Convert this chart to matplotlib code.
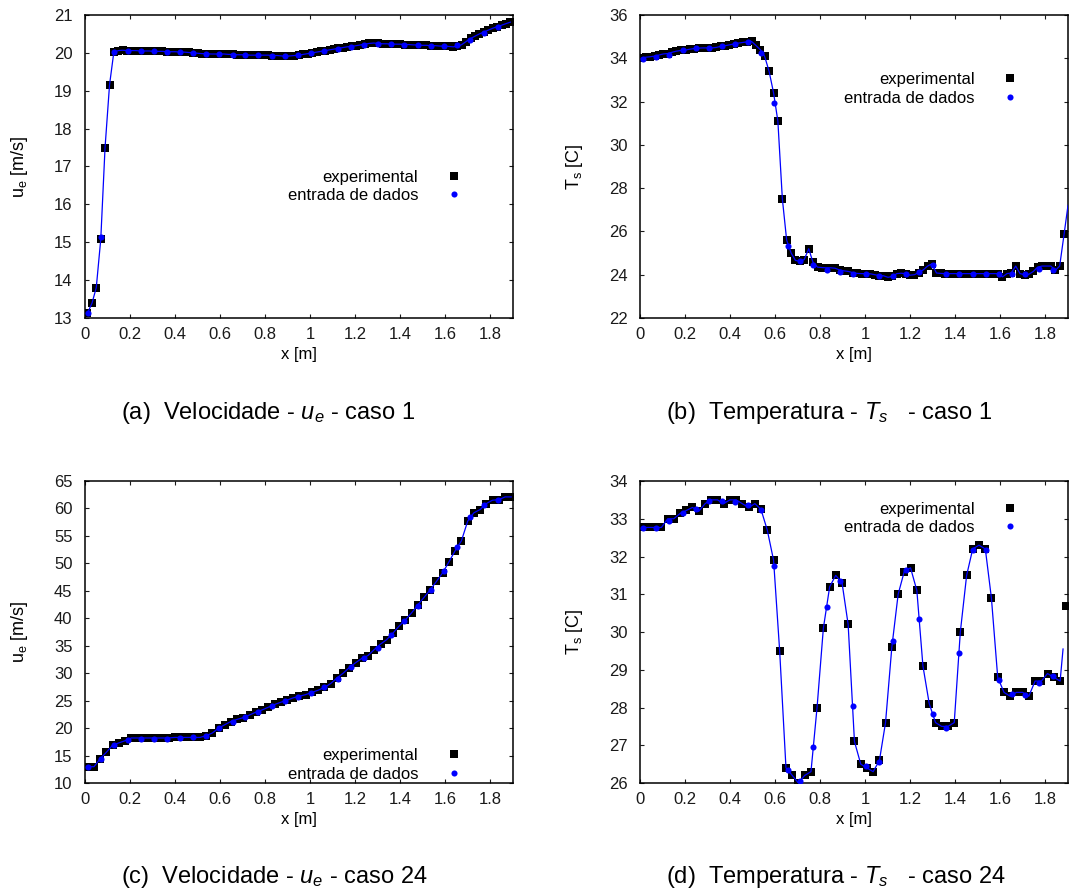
import numpy as np
import matplotlib.pyplot as plt
from matplotlib.ticker import FuncFormatter

plt.rcParams['font.family'] = ['Liberation Sans', 'DejaVu Sans']
plt.rcParams['mathtext.fontset'] = 'custom'
plt.rcParams['mathtext.rm'] = 'Liberation Sans'
plt.rcParams['mathtext.it'] = 'Liberation Sans:italic'

# x positions of the experimental points, caso 1 (a) and (b)
x_a = [0.011, 0.031, 0.050, 0.070, 0.089, 0.109, 0.128, 0.148, 0.167, 0.187,
       0.207, 0.226, 0.246, 0.265, 0.285, 0.304, 0.324, 0.343, 0.363, 0.382,
       0.402, 0.422, 0.441, 0.461, 0.480, 0.500, 0.519, 0.539, 0.558, 0.578,
       0.598, 0.617, 0.637, 0.656, 0.676, 0.695, 0.715, 0.734, 0.754, 0.773,
       0.793, 0.813, 0.832, 0.852, 0.871, 0.891, 0.910, 0.930, 0.949, 0.969,
       0.989, 1.008, 1.028, 1.047, 1.067, 1.086, 1.106, 1.125, 1.145, 1.164,
       1.184, 1.204, 1.223, 1.243, 1.262, 1.282, 1.301, 1.321, 1.340, 1.360,
       1.380, 1.399, 1.419, 1.438, 1.458, 1.477, 1.497, 1.516, 1.536, 1.555,
       1.575, 1.595, 1.614, 1.634, 1.653, 1.673, 1.692, 1.712, 1.731, 1.751,
       1.770, 1.790, 1.810, 1.829, 1.849, 1.868, 1.888]
x_b = [0.006, 0.026, 0.045, 0.065, 0.084, 0.104, 0.123, 0.143, 0.162, 0.182,
       0.202, 0.221, 0.241, 0.260, 0.280, 0.299, 0.319, 0.338, 0.358, 0.377,
       0.397, 0.417, 0.436, 0.456, 0.475, 0.495, 0.514, 0.534, 0.553, 0.573,
       0.593, 0.612, 0.632, 0.651, 0.671, 0.690, 0.710, 0.729, 0.749, 0.768,
       0.788, 0.808, 0.827, 0.847, 0.866, 0.886, 0.905, 0.925, 0.944, 0.964,
       0.984, 1.003, 1.023, 1.042, 1.062, 1.081, 1.101, 1.120, 1.140, 1.159,
       1.179, 1.199, 1.218, 1.238, 1.257, 1.277, 1.296, 1.316, 1.335, 1.355,
       1.375, 1.394, 1.414, 1.433, 1.453, 1.472, 1.492, 1.511, 1.531, 1.550,
       1.570, 1.590, 1.609, 1.629, 1.648, 1.668, 1.687, 1.707, 1.726, 1.746,
       1.765, 1.785, 1.805, 1.824, 1.844, 1.863, 1.883]
# x positions of the experimental points, caso 24 (c) and (d)
x_cd = [0.012, 0.040, 0.067, 0.095, 0.123, 0.150, 0.178, 0.206, 0.233, 0.261,
        0.289, 0.316, 0.344, 0.371, 0.399, 0.427, 0.454, 0.482, 0.510, 0.537,
        0.565, 0.593, 0.620, 0.648, 0.676, 0.703, 0.731, 0.759, 0.786, 0.814,
        0.842, 0.869, 0.897, 0.924, 0.952, 0.980, 1.007, 1.035, 1.063, 1.090,
        1.118, 1.146, 1.173, 1.201, 1.229, 1.256, 1.284, 1.312, 1.339, 1.367,
        1.395, 1.422, 1.450, 1.477, 1.505, 1.533, 1.560, 1.588, 1.616, 1.643,
        1.671, 1.699, 1.726, 1.754, 1.782, 1.809, 1.837, 1.865, 1.892]
# x positions of the "entrada de dados" points
x_in = [0.0135, 0.071, 0.130, 0.189, 0.247, 0.306, 0.364, 0.421, 0.479, 0.538,
        0.596, 0.656, 0.710, 0.770, 0.828, 0.887, 0.945, 1.004, 1.062, 1.121,
        1.181, 1.239, 1.299, 1.359, 1.417, 1.477, 1.534, 1.593, 1.652, 1.711,
        1.771, 1.832]

# (a) velocidade caso 1
u1_exp = [13.13, 13.39, 13.80, 15.08, 17.50, 19.16, 20.02, 20.06, 20.07, 20.06,
          20.06, 20.06, 20.05, 20.05, 20.05, 20.04, 20.04, 20.04, 20.03, 20.03,
          20.03, 20.02, 20.02, 20.01, 20.00, 19.99, 19.98, 19.98, 19.97, 19.97,
          19.97, 19.97, 19.96, 19.96, 19.95, 19.95, 19.95, 19.94, 19.94, 19.94,
          19.94, 19.94, 19.93, 19.93, 19.92, 19.91, 19.92, 19.93, 19.94, 19.96,
          19.98, 20.00, 20.02, 20.04, 20.06, 20.08, 20.10, 20.12, 20.14, 20.16,
          20.17, 20.19, 20.21, 20.23, 20.25, 20.26, 20.25, 20.24, 20.24, 20.23,
          20.23, 20.23, 20.22, 20.22, 20.21, 20.21, 20.20, 20.20, 20.19, 20.19,
          20.18, 20.18, 20.17, 20.16, 20.17, 20.22, 20.30, 20.38, 20.44, 20.50,
          20.55, 20.60, 20.65, 20.69, 20.73, 20.77, 20.81]
u1_in = [13.13, 15.15, 20.02, 20.06, 20.05, 20.04, 20.02, 20.01, 19.99, 19.97,
         19.97, 19.95, 19.94, 19.94, 19.93, 19.91, 19.94, 19.99, 20.05, 20.10,
         20.16, 20.21, 20.24, 20.23, 20.22, 20.20, 20.18, 20.17, 20.20, 20.35,
         20.53, 20.67]

# (b) temperatura caso 1
t1_exp = [34.00, 34.05, 34.07, 34.10, 34.15, 34.20, 34.22, 34.28, 34.33, 34.36,
          34.38, 34.42, 34.45, 34.47, 34.48, 34.48, 34.48, 34.50, 34.55, 34.58,
          34.62, 34.66, 34.70, 34.73, 34.76, 34.78, 34.60, 34.40, 34.10, 33.40,
          32.40, 31.10, 27.50, 25.60, 25.00, 24.66, 24.62, 24.70, 25.20, 24.57,
          24.35, 24.33, 24.32, 24.32, 24.30, 24.22, 24.18, 24.15, 24.10, 24.06,
          24.05, 24.05, 24.04, 24.00, 23.96, 23.95, 23.88, 23.92, 24.05, 24.07,
          24.05, 23.98, 24.00, 24.10, 24.22, 24.40, 24.50, 24.08, 24.06, 24.05,
          24.05, 24.05, 24.05, 24.05, 24.05, 24.05, 24.05, 24.05, 24.05, 24.05,
          24.05, 24.05, 23.90, 24.05, 24.08, 24.40, 24.05, 24.00, 24.02, 24.15,
          24.35, 24.40, 24.40, 24.40, 24.20, 24.40, 25.90]
t1_in = [33.97, 34.07, 34.16, 34.36, 34.47, 34.47, 34.55, 34.67, 34.76, 34.25,
         31.95, 25.33, 24.64, 24.43, 24.24, 24.12, 24.03, 24.03, 23.92, 23.93,
         24.03, 24.13, 24.46, 24.03, 24.03, 24.03, 24.03, 24.03, 24.04, 24.03,
         24.27, 24.23]

# (c) velocidade caso 24
u24_exp = [12.97, 12.97, 14.4, 15.6, 16.9, 17.3, 17.7, 18.2, 18.2, 18.2,
           18.2, 18.2, 18.2, 18.2, 18.3, 18.3, 18.3, 18.3, 18.3, 18.6,
           19.1, 20.0, 20.6, 21.2, 21.6, 21.9, 22.4, 22.9, 23.3, 23.8,
           24.3, 24.7, 25.1, 25.5, 25.8, 26.1, 26.5, 26.9, 27.4, 28.1,
           29.1, 30.0, 31.0, 31.9, 32.7, 33.2, 34.3, 35.3, 36.1, 37.3,
           38.6, 39.7, 41.0, 42.4, 43.8, 45.2, 46.7, 48.3, 50.3, 52.3,
           54.1, 57.7, 59.2, 59.8, 60.9, 61.5, 61.6, 62.1, 62.1]
u24_in = [12.97, 14.4, 16.85, 17.8, 18.1, 18.1, 18.1, 18.25, 18.3, 18.6,
          20.0, 21.1, 22.0, 22.85, 24.0, 24.85, 25.6, 26.4, 27.4, 29.0,
          31.1, 32.8, 34.6, 37.0, 39.5, 42.3, 45.2, 48.6, 52.9, 58.4,
          60.6, 61.5]

# (d) temperatura caso 24
t24_exp = [32.77, 32.77, 32.77, 32.77, 33.0, 33.0, 33.14, 33.22, 33.3, 33.2,
           33.4, 33.5, 33.5, 33.4, 33.5, 33.5, 33.4, 33.3, 33.4, 33.25,
           32.7, 31.9, 29.5, 26.4, 26.2, 26.0, 26.2, 26.3, 28.0, 30.1,
           31.2, 31.5, 31.3, 30.2, 27.1, 26.5, 26.4, 26.3, 26.6, 27.6,
           29.6, 31.0, 31.6, 31.7, 31.1, 29.1, 28.1, 27.6, 27.5, 27.5,
           27.6, 30.0, 31.5, 32.2, 32.3, 32.2, 30.9, 28.8, 28.4, 28.3,
           28.4, 28.4, 28.3, 28.7, 28.7, 28.9, 28.8, 28.7, 30.7]
t24_in = [32.75, 32.75, 32.95, 33.15, 33.26, 33.46, 33.46, 33.45, 33.36, 33.23,
          31.74, 26.35, 26.05, 26.95, 30.65, 31.34, 28.05, 26.44, 26.55, 29.75,
          31.65, 30.34, 27.84, 27.46, 29.44, 32.17, 32.17, 28.74, 28.35, 28.34,
          28.66, 28.83]

# where the fitted curve ends (it does not always stop on the last point)
b_line_end = (1.900, 27.2)
d_line_end = (1.878, 29.55)

xticks = [0, 0.2, 0.4, 0.6, 0.8, 1.0, 1.2, 1.4, 1.6, 1.8]

captions = ['(a)  Velocidade - $u_e$ - caso 1',
            '(b)  Temperatura - $T_s$   - caso 1',
            '(c)  Velocidade - $u_e$ - caso 24',
            '(d)  Temperatura - $T_s$   - caso 24']

fig = plt.figure(figsize=(10.7, 8.96), dpi=100)
W, H = 1070.0, 896.0


def make_axes(left, top, right, bottom):
    return fig.add_axes([left / W, 1 - bottom / H, (right - left) / W, (bottom - top) / H])


ax_a = make_axes(85, 15, 513, 318)
ax_b = make_axes(640, 15, 1068, 318)
ax_c = make_axes(85, 481, 513, 783)
ax_d = make_axes(640, 481, 1068, 783)

panels = [
    (ax_a, x_a, u1_exp, u1_in, x_a, u1_exp, (13, 21), 1, 'u$_\\mathrm{e}$ [m/s]', (0.882, 0.489)),
    (ax_b, x_b, t1_exp, t1_in, x_b + [b_line_end[0]], t1_exp + [b_line_end[1]],
     (22, 36), 2, 'T$_\\mathrm{s}$ [C]', (0.885, 0.811)),
    (ax_c, x_cd, u24_exp, u24_in, x_cd, u24_exp, (10, 65), 5, 'u$_\\mathrm{e}$ [m/s]', (0.882, 0.115)),
    (ax_d, x_cd, t24_exp, t24_in, x_cd[:-1] + [d_line_end[0]], t24_exp[:-1] + [d_line_end[1]],
     (26, 34), 1, 'T$_\\mathrm{s}$ [C]', (0.885, 0.931)),
]

for ax, xe, ye, yi, lx, ly, ylim, ystep, ylabel, leg_pos in panels:
    h_exp, = ax.plot(xe, ye, 's', color='black', markersize=5.2, markeredgewidth=0,
                     label='experimental', zorder=2)
    ax.plot(lx, ly, '-', color='#0000ff', linewidth=0.9, zorder=3)
    h_in, = ax.plot(x_in, yi, 'o', color='#0000ff', markersize=4.4, markeredgewidth=0,
                    label='entrada de dados', zorder=4)
    ax.set_xlim(0, 1.9)
    ax.set_ylim(*ylim)
    ax.set_xticks(xticks)
    ax.set_yticks(np.arange(ylim[0], ylim[1] + 0.001, ystep))
    ax.xaxis.set_major_formatter(FuncFormatter(lambda v, p: '%g' % round(v, 2)))
    ax.yaxis.set_major_formatter(FuncFormatter(lambda v, p: '%g' % v))
    ax.tick_params(direction='in', top=True, right=True, length=3.2, width=0.8,
                   labelsize=12, colors='#1a1a1a')
    ax.tick_params(axis='y', pad=9)
    ax.tick_params(axis='x', pad=6.5)
    for s in ax.spines.values():
        s.set_linewidth(1.1)
    ax.set_xlabel('x [m]', fontsize=12)
    ax.set_ylabel(ylabel, fontsize=13)
    ax.xaxis.set_label_coords(0.5, -0.095)
    ax.yaxis.set_label_coords(-0.128, 0.5)
    ax.legend(handles=[h_exp, h_in], loc='upper right', bbox_to_anchor=leg_pos,
              frameon=False, markerfirst=False, alignment='right', fontsize=12,
              handlelength=1.0, handletextpad=1.65, labelspacing=0.2,
              borderpad=0, borderaxespad=0, numpoints=1)

cap_pos = [(121, 419), (666, 419), (121, 883), (666, 883)]
for (cx, cy), txt in zip(cap_pos, captions):
    fig.text(cx / W, 1 - cy / H, txt, fontsize=17, ha='left', va='baseline')

fig.savefig('out.png', dpi=100)
